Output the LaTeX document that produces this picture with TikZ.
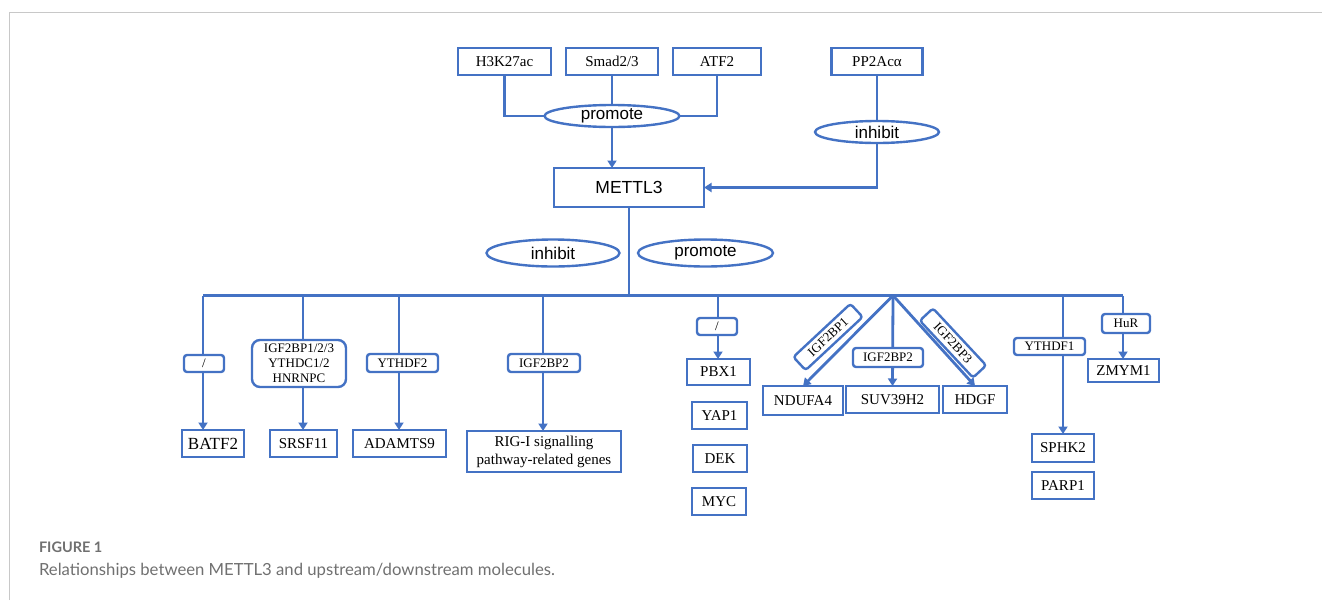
\documentclass[tikz,border=0pt]{standalone}
\usepackage{fontspec}
\setmainfont{Liberation Serif}
\newfontfamily\sansf{Liberation Sans}
\newfontfamily\capf{Lato}
\usetikzlibrary{arrows.meta,shapes.geometric}
\definecolor{bl}{HTML}{4472C4}
\definecolor{capgray}{HTML}{707070}
\definecolor{framegray}{HTML}{C8C8C8}
\begin{document}
\begin{tikzpicture}[x=1pt,y=-1pt,
  every node/.style={inner sep=0pt, outer sep=0pt},
  sz/.style 2 args={minimum width=#1pt, minimum height=#2pt},
  box/.style={draw=bl, line width=2.8pt, fill=white, align=center, font=\fontsize{15}{18}\selectfont},
  lab/.style={draw=bl, line width=2.4pt, fill=white, rounded corners=3pt, align=center, font=\fontsize{13}{15}\selectfont},
  ell/.style={ellipse, draw=bl, line width=2.4pt, fill=white, font=\sansf\fontsize{17}{19}\selectfont},
  conn/.style={draw=bl, line width=2.8pt},
  arr/.style={conn, -{Triangle[width=9pt,length=7.5pt]}},
]
\useasboundingbox (0,0) rectangle (1322,600);
\draw[framegray, line width=1pt] (9.5,600) -- (9.5,12.5) -- (1322,12.5);

% upstream
\node[box, sz={93}{27}] (H3K) at (504.5,61.5) {H3K27ac};
\node[box, sz={92}{27}] (Smad) at (612,61.5) {Smad2/3};
\node[box, sz={88}{27}] (ATF) at (717,61.5) {ATF2};
\node[box, sz={91}{27}] (PP) at (877,61.5) {PP2Acα};
\node[box, sz={150}{39}, font=\sansf\fontsize{17.5}{19}\selectfont] (M) at (629,187.5) {METTL3};

\draw[conn] (H3K.south) |- (612,116);
\draw[conn] (ATF.south) |- (612,116);
\draw[conn] (Smad.south) -- (612,116);
\node[ell, sz={135}{22}] (pro) at (612,116) {promote};
\draw[arr] (pro.south) -- (pro.south |- M.north);

\draw[conn] (PP.south) -- (877,132);
\node[ell, sz={124}{22}] (inh) at (877,132) {inhibit};
\draw[arr] (inh.south) |- (M.east);

% middle
\node[ell, sz={133}{27}] (inh2) at (553,253) {inhibit};
\node[ell, sz={135}{27}] (pro2) at (705.5,253) {promote};

\coordinate (busL) at (203,295.5);
\coordinate (busR) at (1123,295.5);
\draw[conn] (M.south) -- (M.south |- busL);
\draw[conn] (busL) -- (busR);

\coordinate (b1) at (203,295.5);
\coordinate (b2) at (303,295.5);
\coordinate (b3) at (399,295.5);
\coordinate (b4) at (543,295.5);
\coordinate (b5) at (718,295.5);
\coordinate (fan) at (893,295.5);
\coordinate (b7) at (1063,295.5);
\coordinate (b8) at (1123,295.5);

% targets
\node[box, sz={62}{27}, font=\fontsize{17}{19}\selectfont] (BATF) at (213,443.5) {BATF2};
\node[box, sz={67}{27}] (SRSF) at (303.5,443.5) {SRSF11};
\node[box, sz={93}{27}] (ADAM) at (399.5,443.5) {ADAMTS9};
\node[box, sz={154}{41}] (RIG) at (544,451.5) {RIG-I signalling\\pathway-related genes};
\node[box, sz={63}{26}] (PBX) at (718.5,372) {PBX1};
\node[box, sz={55}{27}] (YAP) at (719.5,415.5) {YAP1};
\node[box, sz={54}{27}] (DEK) at (720,458.5) {DEK};
\node[box, sz={54}{27}] (MYC) at (719,501.5) {MYC};
\node[box, sz={80}{29}] (NDU) at (803,400.5) {NDUFA4};
\node[box, sz={93}{27}] (SUV) at (892.5,399.5) {SUV39H2};
\node[box, sz={64}{27}] (HDGF) at (975,399.5) {HDGF};
\node[box, sz={62}{28}] (SPHK) at (1063,448) {SPHK2};
\node[box, sz={62}{27}] (PARP) at (1063,485.5) {PARP1};
\node[box, sz={71}{23}] (ZMYM) at (1123.5,370.5) {ZMYM1};

% connectors
\draw[arr] (b1) -- (b1 |- BATF.north);
\draw[arr] (b2) -- (b2 |- SRSF.north);
\draw[arr] (b3) -- (b3 |- ADAM.north);
\draw[arr] (b4) -- (b4 |- RIG.north);
\draw[arr] (b5) -- (b5 |- PBX.north);
\draw[arr] (fan) -- (NDU.north);
\draw[arr] (fan) -- (SUV.north);
\draw[arr] (fan) -- (HDGF.north);
\draw[arr] (b7) -- (b7 |- SPHK.north);
\draw[arr] (b8) -- (b8 |- ZMYM.north);

% labels
\node[lab, sz={40}{17}] (l1) at (204,363.5) {/};
\node[lab, sz={94}{47}, rounded corners=8pt] (l2) at (299,363.5) {IGF2BP1/2/3\\YTHDC1/2\\HNRNPC};
\node[lab, sz={71}{18}] (l3) at (402.5,363) {YTHDF2};
\node[lab, sz={72}{18}] (l4) at (544,363) {IGF2BP2};
\node[lab, sz={40}{17}] (l5) at (717,326.5) {/};
\node[lab, sz={78}{18}, rotate=43] (l6) at (828,337) {IGF2BP1};
\node[lab, sz={70}{19}] (l7) at (888,357.5) {IGF2BP2};
\node[lab, sz={78}{18}, rotate=-47] (l8) at (953,343) {IGF2BP3};
\node[lab, sz={71}{17}] (l9) at (1049.5,346.5) {YTHDF1};
\node[lab, sz={48}{19}] (l10) at (1126,323.5) {HuR};

% caption
\node[anchor=base west, text=capgray, font=\capf\bfseries\fontsize{14.5}{16}\selectfont] (fig) at (39,552) {FIGURE 1};
\node[anchor=base west, text=capgray, font=\capf\fontsize{16.7}{19}\selectfont] (cap) at (39,575) {Relationships between METTL3 and upstream/downstream molecules.};
\end{tikzpicture}
\end{document}
